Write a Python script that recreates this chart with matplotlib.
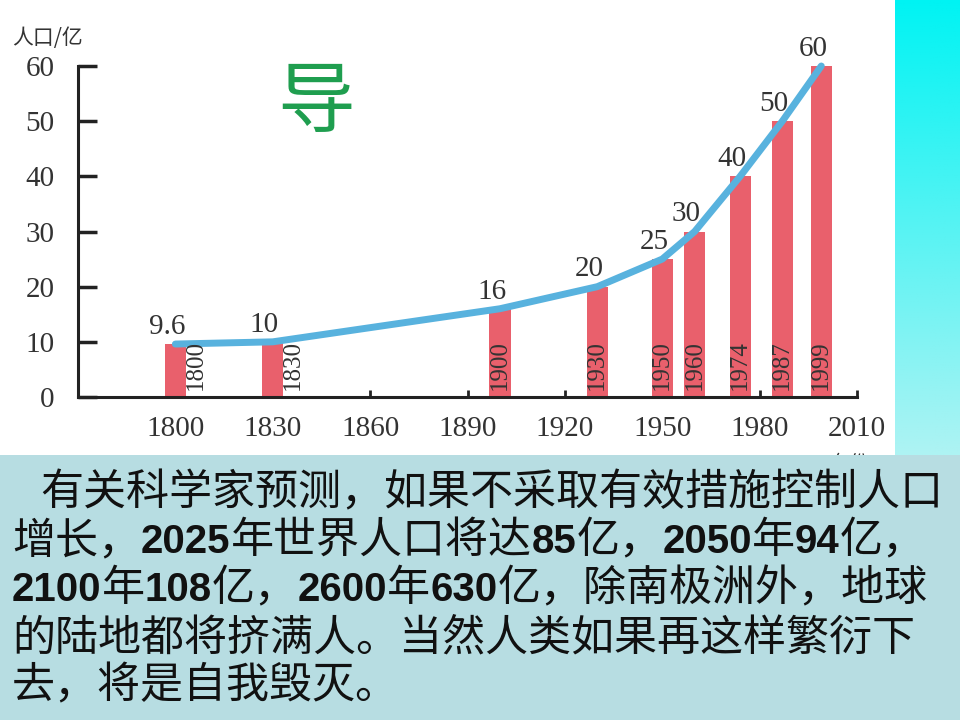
import numpy as np
import matplotlib
matplotlib.use("Agg")
import matplotlib.pyplot as plt
from matplotlib.patches import Rectangle

years = [1800, 1830, 1900, 1930, 1950, 1960, 1974, 1987, 1999]
population = [9.6, 10, 16, 20, 25, 30, 40, 50, 60]
value_labels = ["9.6", "10", "16", "20", "25", "30", "40", "50", "60"]
xticks = [1800, 1830, 1860, 1890, 1920, 1950, 1980, 2010]
yticks = [0, 10, 20, 30, 40, 50, 60]

# slide text: (segment, bold digits?)
text_lines = [
    [("有关科学家预测，如果不采取有效措施控制人口", False)],
    [("增长，", False), ("2025", True), ("年世界人口将达", False), ("85", True),
     ("亿，", False), ("2050", True), ("年", False), ("94", True), ("亿，", False)],
    [("2100", True), ("年", False), ("108", True), ("亿，", False), ("2600", True),
     ("年", False), ("630", True), ("亿，除南极洲外，地球", False)],
    [("的陆地都将挤满人。当然人类如果再这样繁衍下", False)],
    [("去，将是自我毁灭。", False)],
]

cjk = ["Noto Sans CJK SC", "DejaVu Sans"]
serif = ["Liberation Serif", "DejaVu Serif"]
bar_color = "#e9606c"
line_color = "#58b2de"

fig = plt.figure(figsize=(9.6, 7.2), dpi=100)
fig.patch.set_facecolor("white")

# cyan strip on the right
grad = fig.add_axes([895 / 960, 1 - 455 / 720, 65 / 960, 455 / 720])
g = np.linspace(0, 1, 256).reshape(-1, 1)
cmap = matplotlib.colors.LinearSegmentedColormap.from_list("c", ["#00f3f3", "#aef3f3"])
grad.imshow(g, aspect="auto", cmap=cmap, extent=[0, 1, 1, 0])
grad.axis("off")

# bottom text panel
fig.add_artist(Rectangle((0, 0), 1, 265 / 720, transform=fig.transFigure,
                         facecolor="#b7dde2", edgecolor="none", zorder=1))

ax = fig.add_axes([78 / 960, 1 - 397 / 720, 779 / 960, 331 / 720])
ax.set_xlim(1770, 2010)
ax.set_ylim(0, 60)
ax.set_facecolor("none")
for s in ["top", "right"]:
    ax.spines[s].set_visible(False)
for s in ["left", "bottom"]:
    ax.spines[s].set_linewidth(2.2)
    ax.spines[s].set_color("#222222")

ax.bar(years, population, width=6.5, color=bar_color, zorder=2, clip_on=False)
ax.plot(years, population, color=line_color, lw=5, solid_capstyle="round",
        solid_joinstyle="round", zorder=3, clip_on=False)

for x, v, lab in zip(years, population, value_labels):
    ax.annotate(lab, (x, v), xytext=(-6, 3), textcoords="offset points",
                ha="center", va="bottom", fontsize=21, family=serif, color="#333333")
    if v > 12:
        ax.text(x, 1.3, str(x), rotation=90, ha="center", va="bottom",
                fontsize=18, family=serif, color="#333333", zorder=4)
    else:
        ax.text(x + 6.3, 1.3, str(x), rotation=90, ha="center", va="bottom",
                fontsize=18, family=serif, color="#333333", zorder=4)

ax.set_yticks(yticks)
ax.set_xticks(xticks)
ax.tick_params(axis="y", direction="in", length=14, width=2.5, pad=17,
               labelsize=21, labelcolor="#333333", color="#222222")
ax.tick_params(axis="x", direction="in", length=5, width=2, pad=14,
               labelsize=21, labelcolor="#333333", color="#222222")
for lab in ax.get_xticklabels() + ax.get_yticklabels():
    lab.set_family(serif)

fig.text(12 / 960, 1 - 38 / 720, "人口/亿", ha="left", va="center",
         fontsize=15, family=cjk, color="#333333")
fig.text(850 / 960, 1 - 463 / 720, "年份", ha="center", va="center",
         fontsize=13, family=cjk, color="#333333", zorder=0.5)
fig.text(316 / 960, 1 - 104 / 720, "导", ha="center", va="center",
         fontsize=56, family=cjk, color="#1f9e4f")

# paragraph with bold numbers, pieces laid side by side
renderer = fig.canvas.get_renderer()
baselines = [505, 553, 601, 650, 698]
for i, (segs, yb) in enumerate(zip(text_lines, baselines)):
    x = 40 if i == 0 else 12
    for seg, bold in segs:
        if bold:
            t = fig.text(x / 960, 1 - yb / 720, seg, ha="left", va="baseline",
                         fontsize=29, family=["Liberation Sans", "Noto Sans CJK SC"],
                         weight="bold", color="#111111", zorder=2)
        else:
            t = fig.text(x / 960, 1 - yb / 720, seg, ha="left", va="baseline",
                         fontsize=31, family=cjk, color="#111111", zorder=2)
        bb = t.get_window_extent(renderer)
        x = bb.x1

fig.savefig("out.png", dpi=100)
